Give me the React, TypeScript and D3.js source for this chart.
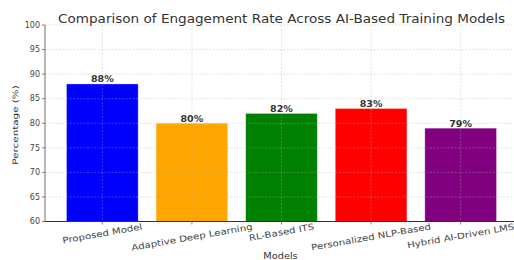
import React from "react";
import * as d3 from "d3";

const WIDTH = 514;
const HEIGHT = 260;

const models = [
  "Proposed Model",
  "Adaptive Deep Learning",
  "RL-Based ITS",
  "Personalized NLP-Based",
  "Hybrid AI-Driven LMS",
];
const engagement = [88, 80, 82, 83, 79];
const barColors = ["#0000ff", "#ffa500", "#008000", "#ff0000", "#800080"];
const yTicks = [60, 65, 70, 75, 80, 85, 90, 95, 100];

const margin = { top: 25, right: -4, bottom: 38.5, left: 45 };
const FONT = "DejaVu Sans, sans-serif";

// the picture's text is wider than plain DejaVu, stretch it along the baseline
const stretch = (t: d3.Selection<SVGTextElement, any, any, any>, k: number) => {
  const w = (t.node() as SVGTextElement).getComputedTextLength();
  t.attr("textLength", w * k).attr("lengthAdjust", "spacingAndGlyphs");
  return w * k;
};

export default function App() {
  const svgRef = React.useRef<SVGSVGElement>(null);

  React.useEffect(() => {
    const svg = d3.select(svgRef.current);
    svg.selectAll("*").remove();

    const innerW = WIDTH - margin.left - margin.right;
    const innerH = HEIGHT - margin.top - margin.bottom;

    // matplotlib-ish: bars 0.8 wide, 5% margins
    const n = models.length;
    const x = d3
      .scaleLinear()
      .domain([-0.4 - 0.05 * (n - 0.2), n - 0.6 + 0.05 * (n - 0.2)])
      .range([0, innerW]);
    const y = d3.scaleLinear().domain([60, 100]).range([innerH, 0]);

    const g = svg
      .append("g")
      .attr("transform", `translate(${margin.left},${margin.top})`);

    // bars
    g.selectAll("rect.bar")
      .data(engagement)
      .join("rect")
      .attr("class", "bar")
      .attr("x", (_, i) => x(i - 0.4))
      .attr("width", x(0.4) - x(-0.4))
      .attr("y", (d) => y(d))
      .attr("height", (d) => innerH - y(d))
      .attr("fill", (_, i) => barColors[i])
      .attr("stroke", "#ffffff")
      .attr("stroke-opacity", 0.4)
      .attr("stroke-width", 0.8);

    // grid over bars
    const grid = g.append("g").attr("stroke", "#b0b0b0").attr("stroke-opacity", 0.6)
      .attr("stroke-width", 0.6).attr("stroke-dasharray", "2,1.5");
    grid.selectAll("line.h")
      .data(yTicks)
      .join("line")
      .attr("x1", 0)
      .attr("x2", innerW)
      .attr("y1", (d) => y(d))
      .attr("y2", (d) => y(d));
    grid.selectAll("line.v")
      .data(models)
      .join("line")
      .attr("x1", (_, i) => x(i))
      .attr("x2", (_, i) => x(i))
      .attr("y1", 0)
      .attr("y2", innerH);

    // value labels
    engagement.forEach((d, i) => {
      const t = g.append("text")
        .attr("x", x(i))
        .attr("y", y(d) - 1.5)
        .attr("text-anchor", "middle")
        .attr("font-family", FONT)
        .attr("font-size", 8.5)
        .attr("font-weight", "bold")
        .attr("fill", "#333")
        .text(`${d}%`);
      stretch(t, 1.12);
    });

    // spines
    g.append("line").attr("x1", 0).attr("x2", 0).attr("y1", 0).attr("y2", innerH)
      .attr("stroke", "#888").attr("stroke-width", 1.2);
    g.append("line").attr("x1", 0).attr("x2", innerW).attr("y1", innerH).attr("y2", innerH)
      .attr("stroke", "#333").attr("stroke-width", 1.2);

    // y ticks
    const yt = g.append("g");
    yTicks.forEach((t) => {
      yt.append("line").attr("x1", -3).attr("x2", 0).attr("y1", y(t)).attr("y2", y(t))
        .attr("stroke", "#666").attr("stroke-width", 0.8);
      yt.append("text")
        .attr("x", -5)
        .attr("y", y(t))
        .attr("dy", "0.35em")
        .attr("text-anchor", "end")
        .attr("font-family", FONT)
        .attr("font-size", 8)
        .attr("fill", "#444")
        .text(t);
    });

    // x tick labels, rotated about their center, top aligned under axis
    const angle = 10;
    const rad = (angle * Math.PI) / 180;
    models.forEach((m, i) => {
      g.append("line").attr("x1", x(i)).attr("x2", x(i)).attr("y1", innerH).attr("y2", innerH + 3)
        .attr("stroke", "#666").attr("stroke-width", 0.8);
      const t = g.append("text")
        .attr("text-anchor", "middle")
        .attr("dominant-baseline", "central")
        .attr("font-family", FONT)
        .attr("font-size", 8.5)
        .attr("fill", "#444")
        .text(m);
      const w = stretch(t, 1.2);
      const h = 7;
      const bh = w * Math.sin(rad) + h * Math.cos(rad);
      t.attr("transform", `translate(${x(i)},${innerH + 1.5 + bh / 2}) rotate(${-angle})`);
    });

    // axis labels
    const xl = svg.append("text")
      .attr("x", margin.left + x(2) - 1)
      .attr("y", HEIGHT - 1)
      .attr("text-anchor", "middle")
      .attr("font-family", FONT)
      .attr("font-size", 8.5)
      .attr("fill", "#333")
      .text("Models");
    stretch(xl, 1.15);

    const yl = svg.append("text")
      .attr("transform", `translate(15.5,${margin.top + 100}) rotate(-90)`)
      .attr("text-anchor", "middle")
      .attr("dy", "0.35em")
      .attr("font-family", FONT)
      .attr("font-size", 7.5)
      .attr("fill", "#333")
      .text("Percentage (%)");
    stretch(yl, 1.38);

    // title
    const title = svg.append("text")
      .attr("x", 281.5)
      .attr("y", 22.5)
      .attr("text-anchor", "middle")
      .attr("font-family", FONT)
      .attr("font-size", 11.8)
      .attr("fill", "#333")
      .text("Comparison of Engagement Rate Across AI-Based Training Models");
    stretch(title, 1.15);
  }, []);

  return (
    <svg
      ref={svgRef}
      width={WIDTH}
      height={HEIGHT}
      style={{ position: "absolute", left: 0, top: 0, background: "#fff" }}
    />
  );
}
